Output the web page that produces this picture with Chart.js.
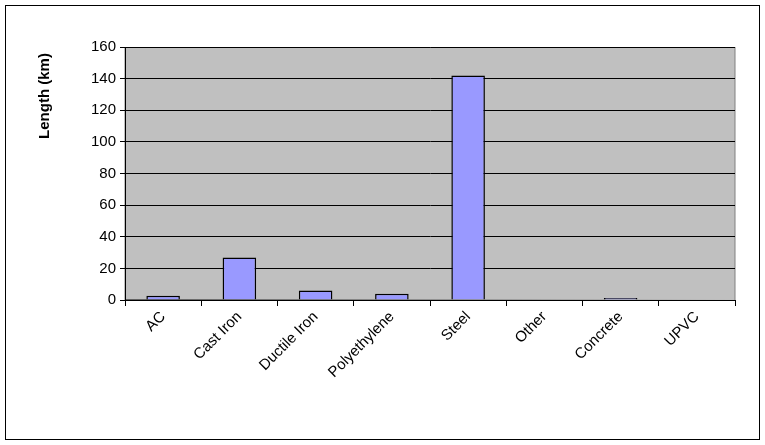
<!DOCTYPE html>
<html><head><script src="https://cdn.jsdelivr.net/npm/chart.js@4"></script>
<style>body{margin:0;background:#fff}#w{position:absolute;left:0;top:0;width:765px;height:445px}</style></head>
<body><div id="w"><canvas id="c"></canvas></div>
<script>
const categories=["AC","Cast Iron","Ductile Iron","Polyethylene","Steel","Other","Concrete","UPVC"];
const lengths=[2.7,26.8,6,3.9,142,0,1.2,0];
const yTicks=[0,20,40,60,80,100,120,140,160];
const yTitle='Length (km)';
const frame={id:'frame',beforeDraw(c){const x=c.ctx,a=c.chartArea;x.save();x.fillStyle='#fff';x.fillRect(0,0,c.width,c.height);x.strokeStyle='#000';x.lineWidth=1;x.strokeRect(5.5,5.5,754,434);x.fillStyle='#c0c0c0';x.fillRect(a.left,a.top,a.right-a.left,a.bottom-a.top);x.strokeStyle='#808080';x.strokeRect(a.left,a.top+.5,a.right-a.left,a.bottom-a.top);x.restore();},
afterDraw(c){const x=c.ctx,a=c.chartArea;x.save();x.strokeStyle='#000';x.lineWidth=1;x.beginPath();x.moveTo(a.left+.5,a.top);x.lineTo(a.left+.5,a.bottom);x.lineTo(a.right,a.bottom+.5);x.stroke();
x.translate(45,96);x.rotate(-Math.PI/2);x.fillStyle='#000';x.font='bold 15px Liberation Sans, Arial';x.textAlign='center';x.textBaseline='middle';x.fillText(yTitle,0,0);x.restore();}};
const F={family:'Liberation Sans, Arial',size:15};
new Chart(document.getElementById('c'),{type:'bar',
data:{labels:categories,datasets:[{data:lengths,backgroundColor:'#9999ff',borderColor:'#000',borderWidth:1.5,categoryPercentage:1,barPercentage:0.44}]},
options:{responsive:true,maintainAspectRatio:false,animation:false,devicePixelRatio:1,
layout:{padding:{left:0,right:30,top:47,bottom:0}},
plugins:{legend:{display:false},tooltip:{enabled:false}},
scales:{x:{afterFit(s){s.height=145;},grid:{display:true,drawOnChartArea:false,tickLength:6,color:'#000',offset:true},border:{color:'#000'},
ticks:{color:'#000',font:F,maxRotation:45,minRotation:45,padding:2}},
y:{min:0,max:160,afterFit(s){s.width=125;},afterBuildTicks(s){s.ticks=yTicks.map(v=>({value:v}));},
grid:{color:'#000',tickLength:5,lineWidth:1},border:{color:'#000'},
ticks:{color:'#000',font:F,padding:4}}}},
plugins:[frame]});
</script></body></html>
